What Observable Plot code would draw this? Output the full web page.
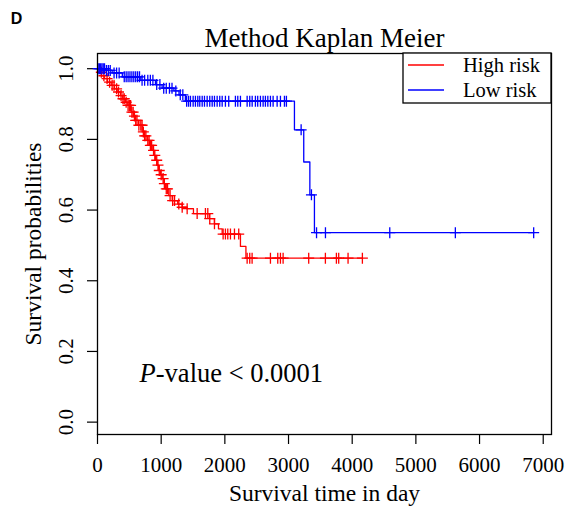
<!DOCTYPE html>
<html><head><meta charset="utf-8">
<script src="https://cdn.jsdelivr.net/npm/d3@7"></script>
<script src="https://cdn.jsdelivr.net/npm/@observablehq/plot@0.6"></script>
<style>body{margin:0;background:#fff}</style>
</head><body><div id="chart"></div>
<script>
// Series: High risk (Kaplan-Meier steps: event time, survival after)
const highStepTimes = [0, 30, 63, 110, 157, 215, 267, 319, 361, 397, 440, 476, 529, 565, 597, 644, 702, 738, 780, 816, 859, 887, 911, 937, 962, 989, 1016, 1041, 1067, 1119, 1173, 1260, 1330, 1397, 1507, 1758, 1837, 1900, 1958, 2245, 2331];
const highStepSurv  = [1.0, 0.99, 0.98, 0.972, 0.962, 0.953, 0.943, 0.934, 0.924, 0.915, 0.905, 0.896, 0.877, 0.866, 0.854, 0.840, 0.821, 0.810, 0.797, 0.783, 0.769, 0.755, 0.741, 0.727, 0.712, 0.700, 0.689, 0.675, 0.660, 0.641, 0.627, 0.617, 0.608, 0.604, 0.590, 0.576, 0.561, 0.547, 0.532, 0.497, 0.464];
const highCensorTimes = [60, 100, 150, 190, 230, 260, 300, 330, 370, 400, 420, 450, 480, 500, 520, 540, 560, 580, 600, 620, 650, 680, 700, 720, 740, 760, 790, 810, 830, 850, 880, 900, 930, 950, 970, 1000, 1030, 1050, 1080, 1100, 1140, 1180, 1210, 1277, 1330, 1408, 1565, 1695, 1732, 1763, 1837, 1973, 2009, 2046, 2088, 2151, 2218, 2350, 2391, 2428, 2716, 2831, 2873, 2915, 3317, 3579, 3752, 3788, 3935, 4160];

// Series: Low risk
const lowStepTimes = [0, 120, 230, 390, 680, 910, 1015, 1200, 1280, 1380, 3093, 3239, 3335, 3407];
const lowStepSurv  = [1.0, 0.995, 0.988, 0.977, 0.967, 0.955, 0.945, 0.937, 0.926, 0.908, 0.827, 0.736, 0.643, 0.536];
const lowCensorTimes = [10, 30, 50, 70, 90, 110, 140, 170, 200, 260, 300, 340, 420, 450, 480, 510, 540, 570, 600, 630, 660, 700, 740, 790, 830, 870, 930, 980, 1040, 1080, 1130, 1170, 1230, 1300, 1340, 1400, 1430, 1460, 1502, 1538, 1575, 1606, 1644, 1680, 1722, 1763, 1801, 1837, 1879, 1920, 1958, 2009, 2061, 2166, 2203, 2245, 2350, 2391, 2429, 2480, 2516, 2559, 2601, 2637, 2675, 2716, 2758, 2821, 2873, 2936, 2967, 3198, 3360, 3440, 3580, 4590, 5620, 6850];

const groups = ["High risk", "Low risk"];
const groupColors = ["#FF0000", "#0000FF"];
const xTicks = [0, 1000, 2000, 3000, 4000, 5000, 6000, 7000];
const yTicks = [0, 0.2, 0.4, 0.6, 0.8, 1.0];
const yTickLabels = ["0.0", "0.2", "0.4", "0.6", "0.8", "1.0"];
const titleText = "Method Kaplan Meier";
const xLabel = "Survival time in day";
const yLabel = "Survival probabilities";
const panelLetter = "D";

function survAt(times, surv, t) {
  let s = surv[0];
  for (let i = 0; i < times.length; i++) if (times[i] <= t) s = surv[i];
  return s;
}
function lineData(times, surv, censor, group) {
  const pts = times.map((t, i) => ({t, s: surv[i], group}));
  const end = Math.max(times[times.length - 1], d3.max(censor));
  pts.push({t: end, s: surv[surv.length - 1], group});
  return pts;
}
function censorData(times, surv, censor, group) {
  return censor.map(t => ({t, s: survAt(times, surv, t), group}));
}
const lines = [
  ...lineData(highStepTimes, highStepSurv, highCensorTimes, groups[0]),
  ...lineData(lowStepTimes, lowStepSurv, lowCensorTimes, groups[1])
];
const censors = [
  ...censorData(highStepTimes, highStepSurv, highCensorTimes, groups[0]),
  ...censorData(lowStepTimes, lowStepSurv, lowCensorTimes, groups[1])
];

const plusSymbol = {
  draw(ctx, size) {
    const r = Math.sqrt(size / Math.PI);
    ctx.moveTo(-r, 0); ctx.lineTo(r, 0);
    ctx.moveTo(0, -r); ctx.lineTo(0, r);
  }
};

const serif = "'Liberation Serif', 'Times New Roman', serif";
const mid = {textAnchor: "middle", lineAnchor: "middle"};
const chart = Plot.plot({
  width: 580, height: 514,
  marginLeft: 97, marginRight: 29, marginTop: 53, marginBottom: 80,
  style: {fontFamily: serif, background: "white", color: "black"},
  x: {domain: [0, 7130]},
  y: {domain: [-0.035, 1.043]},
  color: {domain: groups, range: groupColors},
  marks: [
    Plot.axisX({ticks: xTicks, tickSize: 10, tickPadding: 13, fontSize: 21, label: null, tickFormat: d => String(d), strokeWidth: 1.2}),
    Plot.axisY({ticks: yTicks, tickSize: 10, tickFormat: () => "", label: null, strokeWidth: 1.2}),
    Plot.text(yTicks, {y: d => d, text: (d, i) => yTickLabels[i], frameAnchor: "left", dx: -31.5, rotate: -90, fontSize: 21, ...mid}),
    Plot.line(lines, {x: "t", y: "s", z: "group", stroke: "group", curve: "step-after", strokeWidth: 1.3}),
    Plot.dot(censors, {x: "t", y: "s", stroke: "group", symbol: plusSymbol, r: 5.5, strokeWidth: 1.3, fill: "none"}),
    Plot.frame({stroke: "black", strokeWidth: 1.3}),
    Plot.text([titleText], {frameAnchor: "top", dy: -15, fontSize: 27, ...mid}),
    Plot.text([xLabel], {frameAnchor: "bottom", dy: 59, fontSize: 23.5, ...mid}),
    Plot.text([yLabel], {frameAnchor: "left", dx: -64, rotate: -90, fontSize: 23.5, ...mid}),
    Plot.text(["P"], {frameAnchor: "bottom-left", dx: 42, dy: -61, textAnchor: "start", lineAnchor: "middle", fontSize: 26.5, fontStyle: "italic"}),
    Plot.text(["-value < 0.0001"], {frameAnchor: "bottom-left", dx: 42 + 16.3, dy: -61, textAnchor: "start", lineAnchor: "middle", fontSize: 26.5}),
    Plot.text([panelLetter], {frameAnchor: "top-left", dx: -81, dy: -35, fontSize: 16, fontWeight: "bold", fontFamily: "'Liberation Sans', Arial, sans-serif", ...mid})
  ]
});

// legend box (top-right, inside frame)
const svg = d3.select(chart);
const lg = svg.append("g").attr("font-family", serif).attr("font-size", 20.5).attr("text-anchor", "start");
lg.append("rect").attr("x", 403).attr("y", 53).attr("width", 148).attr("height", 50)
  .attr("fill", "white").attr("stroke", "black").attr("stroke-width", 1.3);
groups.forEach((g, i) => {
  const cy = 65 + i * 25;
  lg.append("line").attr("x1", 408).attr("x2", 444).attr("y1", cy).attr("y2", cy)
    .attr("stroke", groupColors[i]).attr("stroke-width", 1.3);
  lg.append("text").attr("x", 463).attr("y", cy).attr("dy", "0.35em").attr("fill", "black").text(g);
});
document.getElementById("chart").appendChild(chart);
</script>
</body></html>
